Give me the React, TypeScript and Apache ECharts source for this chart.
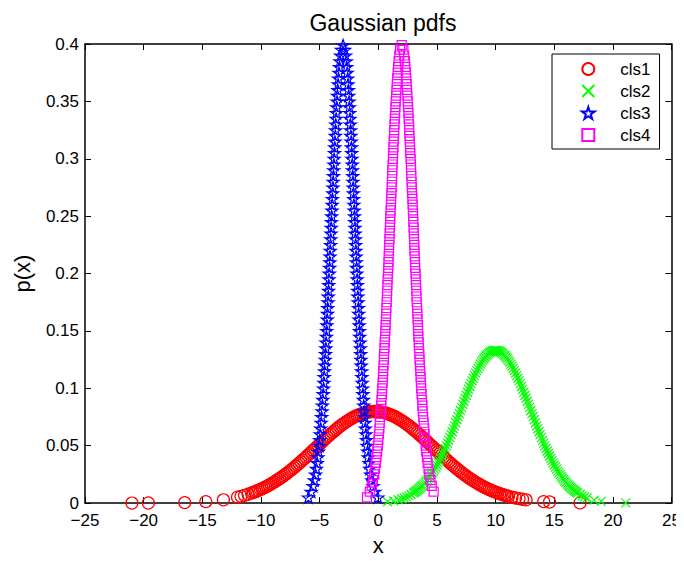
import React, { useEffect, useRef } from "react";
import * as echarts from "echarts";

const seriesNames = ["cls1", "cls2", "cls3", "cls4"];
const seriesColors = ["#ff0000", "#00ff00", "#0000ff", "#ff00ff"];

const xTicks = { min: -25, max: 25, interval: 5 };
const yTicks = { min: 0, max: 0.4, interval: 0.05 };

// cls1 (red circles)
const cls1X = [
  -21.0, -19.6, -16.5, -14.7, -13.2,
  -12.0, -11.7, -11.4, -11.1, -10.8,
  -10.65, -10.5, -10.35, -10.2, -10.05, -9.9, -9.75, -9.6, -9.45, -9.3,
  -9.15, -9.0, -8.85, -8.7, -8.55, -8.4, -8.25, -8.1, -7.95, -7.8,
  -7.65, -7.5, -7.35, -7.2, -7.05, -6.9, -6.75, -6.6, -6.45, -6.3,
  -6.15, -6.0, -5.85, -5.7, -5.55, -5.4, -5.25, -5.1, -4.95, -4.8,
  -4.65, -4.5, -4.35, -4.2, -4.05, -3.9, -3.75, -3.6, -3.45, -3.3,
  -3.15, -3.0, -2.85, -2.7, -2.55, -2.4, -2.25, -2.1, -1.95, -1.8,
  -1.65, -1.5, -1.35, -1.2, -1.05, -0.9, -0.75, -0.6, -0.45, -0.3,
  -0.15, 0.0, 0.15, 0.3, 0.45, 0.6, 0.75, 0.9, 1.05, 1.2,
  1.35, 1.5, 1.65, 1.8, 1.95, 2.1, 2.25, 2.4, 2.55, 2.7,
  2.85, 3.0, 3.15, 3.3, 3.45, 3.6, 3.75, 3.9, 4.05, 4.2,
  4.35, 4.5, 4.65, 4.8, 4.95, 5.1, 5.25, 5.4, 5.55, 5.7,
  5.85, 6.0, 6.15, 6.3, 6.45, 6.6, 6.75, 6.9, 7.05, 7.2,
  7.35, 7.5, 7.65, 7.8, 7.95, 8.1, 8.25, 8.4, 8.55, 8.7,
  8.85, 9.0, 9.15, 9.3, 9.45, 9.6, 9.75, 9.9, 10.05, 10.2,
  10.35, 10.5, 10.65, 10.8, 10.95,
  11.1, 11.4, 11.7, 12.0, 12.3, 12.6,
  14.1, 14.6, 17.2,
];
const cls1Y = [
  0.00002, 0.00005, 0.00042, 0.00126, 0.00286,
  0.00516, 0.00593, 0.00679, 0.00774, 0.0088,
  0.00936, 0.00996, 0.0106, 0.0112, 0.0119, 0.0126, 0.0134, 0.0141, 0.015, 0.0158,
  0.0167, 0.0176, 0.0185, 0.0195, 0.0205, 0.0215, 0.0225, 0.0236, 0.0248, 0.0259,
  0.0271, 0.0283, 0.0295, 0.0308, 0.0321, 0.0334, 0.0347, 0.0361, 0.0375, 0.0388,
  0.0402, 0.0417, 0.0431, 0.0445, 0.046, 0.0474, 0.0489, 0.0503, 0.0518, 0.0532,
  0.0547, 0.0561, 0.0575, 0.0589, 0.0602, 0.0616, 0.0629, 0.0642, 0.0654, 0.0667,
  0.0678, 0.069, 0.0701, 0.0711, 0.0721, 0.0731, 0.074, 0.0748, 0.0756, 0.0763,
  0.0769, 0.0775, 0.0781, 0.0785, 0.0789, 0.0792, 0.0795, 0.0797, 0.0798, 0.0798,
  0.0798, 0.0797, 0.0795, 0.0792, 0.0789, 0.0785, 0.0781, 0.0775, 0.0769, 0.0763,
  0.0756, 0.0748, 0.074, 0.0731, 0.0721, 0.0711, 0.0701, 0.069, 0.0678, 0.0667,
  0.0654, 0.0642, 0.0629, 0.0616, 0.0602, 0.0589, 0.0575, 0.0561, 0.0547, 0.0532,
  0.0518, 0.0503, 0.0489, 0.0474, 0.046, 0.0445, 0.0431, 0.0417, 0.0402, 0.0388,
  0.0375, 0.0361, 0.0347, 0.0334, 0.0321, 0.0308, 0.0295, 0.0283, 0.0271, 0.0259,
  0.0248, 0.0236, 0.0225, 0.0215, 0.0205, 0.0195, 0.0185, 0.0176, 0.0167, 0.0158,
  0.015, 0.0141, 0.0134, 0.0126, 0.0119, 0.0112, 0.0106, 0.00996, 0.00936, 0.0088,
  0.00826, 0.00774, 0.00725, 0.00679, 0.00635,
  0.00593, 0.00516, 0.00448, 0.00387, 0.00333, 0.00286,
  0.00126, 0.00094, 0.00018,
];

// cls2 (green crosses)
const cls2X = [
  0.8, 1.3, 1.7,
  2.0, 2.2, 2.4, 2.6, 2.8,
  3.0, 3.1, 3.2, 3.3, 3.4, 3.5, 3.6, 3.7, 3.8, 3.9,
  4.0, 4.1, 4.2, 4.3, 4.4, 4.5, 4.6, 4.7, 4.8, 4.9,
  5.0, 5.1, 5.2, 5.3, 5.4, 5.5, 5.6, 5.7, 5.8, 5.9,
  6.0, 6.1, 6.2, 6.3, 6.4, 6.5, 6.6, 6.7, 6.8, 6.9,
  7.0, 7.1, 7.2, 7.3, 7.4, 7.5, 7.6, 7.7, 7.8, 7.9,
  8.0, 8.1, 8.2, 8.3, 8.4, 8.5, 8.6, 8.7, 8.8, 8.9,
  9.0, 9.1, 9.2, 9.3, 9.4, 9.5, 9.6, 9.7, 9.8, 9.9,
  10.0, 10.1, 10.2, 10.3, 10.4, 10.5, 10.6, 10.7, 10.8, 10.9,
  11.0, 11.1, 11.2, 11.3, 11.4, 11.5, 11.6, 11.7, 11.8, 11.9,
  12.0, 12.1, 12.2, 12.3, 12.4, 12.5, 12.6, 12.7, 12.8, 12.9,
  13.0, 13.1, 13.2, 13.3, 13.4, 13.5, 13.6, 13.7, 13.8, 13.9,
  14.0, 14.1, 14.2, 14.3, 14.4, 14.5, 14.6, 14.7, 14.8, 14.9,
  15.0, 15.1, 15.2, 15.3, 15.4, 15.5, 15.6, 15.7, 15.8, 15.9,
  16.0, 16.1, 16.2, 16.3, 16.4, 16.5, 16.6, 16.7, 16.8, 16.9,
  17.0,
  17.2, 17.4, 17.6, 17.8,
  18.4, 19.0, 21.1,
];
const cls2Y = [
  0.00121, 0.00198, 0.0029,
  0.0038, 0.00452, 0.00537, 0.00634, 0.00746,
  0.00874, 0.00944, 0.0102, 0.011, 0.0118, 0.0127, 0.0137, 0.0147, 0.0157, 0.0168,
  0.018, 0.0192, 0.0205, 0.0219, 0.0233, 0.0248, 0.0263, 0.0279, 0.0296, 0.0314,
  0.0332, 0.035, 0.037, 0.039, 0.041, 0.0432, 0.0454, 0.0476, 0.0499, 0.0523,
  0.0547, 0.0571, 0.0596, 0.0622, 0.0647, 0.0673, 0.07, 0.0726, 0.0753, 0.078,
  0.0807, 0.0834, 0.086, 0.0887, 0.0914, 0.094, 0.0966, 0.0991, 0.1016, 0.1041,
  0.1065, 0.1088, 0.1111, 0.1133, 0.1154, 0.1174, 0.1193, 0.1211, 0.1228, 0.1244,
  0.1258, 0.1271, 0.1284, 0.1294, 0.1304, 0.1312, 0.1318, 0.1323, 0.1327, 0.1329,
  0.133, 0.1329, 0.1327, 0.1323, 0.1318, 0.1312, 0.1304, 0.1294, 0.1284, 0.1271,
  0.1258, 0.1244, 0.1228, 0.1211, 0.1193, 0.1174, 0.1154, 0.1133, 0.1111, 0.1088,
  0.1065, 0.1041, 0.1016, 0.0991, 0.0966, 0.094, 0.0914, 0.0887, 0.086, 0.0834,
  0.0807, 0.078, 0.0753, 0.0726, 0.07, 0.0673, 0.0647, 0.0622, 0.0596, 0.0571,
  0.0547, 0.0523, 0.0499, 0.0476, 0.0454, 0.0432, 0.041, 0.039, 0.037, 0.035,
  0.0332, 0.0314, 0.0296, 0.0279, 0.0263, 0.0248, 0.0233, 0.0219, 0.0205, 0.0192,
  0.018, 0.0168, 0.0157, 0.0147, 0.0137, 0.0127, 0.0118, 0.011, 0.0102, 0.00944,
  0.00874,
  0.00746, 0.00634, 0.00537, 0.00452,
  0.00264, 0.00148, 0.00014,
];

// cls3 (blue stars)
const cls3X = [
  -5.96, -5.72, -5.56, -5.45, -5.35, -5.28, -5.21, -5.15, -5.09, -5.04,
  -4.99, -4.95, -4.91, -4.87, -4.83, -4.79, -4.76, -4.73, -4.69, -4.66,
  -4.63, -4.61, -4.58, -4.55, -4.52, -4.5, -4.47, -4.45, -4.42, -4.4,
  -4.38, -4.35, -4.33, -4.31, -4.28, -4.26, -4.24, -4.22, -4.2, -4.18,
  -4.15, -4.13, -4.11, -4.09, -4.07, -4.05, -4.03, -4.01, -3.99, -3.97,
  -3.95, -3.93, -3.91, -3.88, -3.86, -3.84, -3.82, -3.8, -3.78, -3.76,
  -3.73, -3.71, -3.69, -3.66, -3.64, -3.62, -3.59, -3.57, -3.54, -3.51,
  -3.48, -3.45, -3.42, -3.39, -3.35, -3.31, -3.27, -3.21, -3.14,
  -3.0,
  -2.86, -2.79, -2.73, -2.69, -2.65, -2.61, -2.58, -2.55, -2.52, -2.49,
  -2.46, -2.44, -2.41, -2.38, -2.36, -2.34, -2.31, -2.29, -2.27, -2.25,
  -2.22, -2.2, -2.18, -2.16, -2.14, -2.12, -2.1, -2.08, -2.05, -2.03,
  -2.01, -1.99, -1.97, -1.95, -1.93, -1.91, -1.89, -1.87, -1.85, -1.83,
  -1.8, -1.78, -1.76, -1.74, -1.72, -1.69, -1.67, -1.65, -1.63, -1.6,
  -1.58, -1.55, -1.53, -1.5, -1.48, -1.45, -1.42, -1.4, -1.37, -1.34,
  -1.31, -1.27, -1.24, -1.21, -1.17, -1.13, -1.1, -1.05, -1.01, -0.96,
  -0.91, -0.86, -0.79, -0.73, -0.65, -0.55, -0.44, -0.29, -0.04,
];
const cls3Y = [
  0.005, 0.01, 0.015, 0.02, 0.025, 0.03, 0.035, 0.04, 0.045, 0.05,
  0.055, 0.06, 0.065, 0.07, 0.075, 0.08, 0.085, 0.09, 0.095, 0.1,
  0.105, 0.11, 0.115, 0.12, 0.125, 0.13, 0.135, 0.14, 0.145, 0.15,
  0.155, 0.16, 0.165, 0.17, 0.175, 0.18, 0.185, 0.19, 0.195, 0.2,
  0.205, 0.21, 0.215, 0.22, 0.225, 0.23, 0.235, 0.24, 0.245, 0.25,
  0.255, 0.26, 0.265, 0.27, 0.275, 0.28, 0.285, 0.29, 0.295, 0.3,
  0.305, 0.31, 0.315, 0.32, 0.325, 0.33, 0.335, 0.34, 0.345, 0.35,
  0.355, 0.36, 0.365, 0.37, 0.375, 0.38, 0.385, 0.39, 0.395,
  0.399,
  0.395, 0.39, 0.385, 0.38, 0.375, 0.37, 0.365, 0.36, 0.355, 0.35,
  0.345, 0.34, 0.335, 0.33, 0.325, 0.32, 0.315, 0.31, 0.305, 0.3,
  0.295, 0.29, 0.285, 0.28, 0.275, 0.27, 0.265, 0.26, 0.255, 0.25,
  0.245, 0.24, 0.235, 0.23, 0.225, 0.22, 0.215, 0.21, 0.205, 0.2,
  0.195, 0.19, 0.185, 0.18, 0.175, 0.17, 0.165, 0.16, 0.155, 0.15,
  0.145, 0.14, 0.135, 0.13, 0.125, 0.12, 0.115, 0.11, 0.105, 0.1,
  0.095, 0.09, 0.085, 0.08, 0.075, 0.07, 0.065, 0.06, 0.055, 0.05,
  0.045, 0.04, 0.035, 0.03, 0.025, 0.02, 0.015, 0.01, 0.005,
];

// cls4 (magenta squares)
const cls4X = [
  -0.96, -0.72, -0.56, -0.45, -0.35, -0.28, -0.21, -0.15, -0.09, -0.04,
  0.01, 0.05, 0.1, 0.13, 0.17, 0.21, 0.24, 0.27, 0.31, 0.34,
  0.37, 0.4, 0.42, 0.45, 0.48, 0.5, 0.53, 0.55, 0.58, 0.6,
  0.63, 0.65, 0.67, 0.69, 0.72, 0.74, 0.76, 0.78, 0.8, 0.83,
  0.85, 0.87, 0.89, 0.91, 0.93, 0.95, 0.97, 0.99, 1.01, 1.03,
  1.05, 1.08, 1.1, 1.12, 1.14, 1.16, 1.18, 1.2, 1.22, 1.25,
  1.27, 1.29, 1.31, 1.34, 1.36, 1.38, 1.41, 1.44, 1.46, 1.49,
  1.52, 1.55, 1.58, 1.61, 1.65, 1.69, 1.73, 1.79, 1.86,
  2.0,
  2.14, 2.21, 2.27, 2.31, 2.35, 2.39, 2.42, 2.45, 2.48, 2.51,
  2.54, 2.57, 2.59, 2.62, 2.64, 2.66, 2.69, 2.71, 2.73, 2.76,
  2.78, 2.8, 2.82, 2.84, 2.86, 2.88, 2.91, 2.93, 2.95, 2.97,
  2.99, 3.01, 3.03, 3.05, 3.07, 3.09, 3.11, 3.13, 3.15, 3.18,
  3.2, 3.22, 3.24, 3.26, 3.28, 3.31, 3.33, 3.35, 3.38, 3.4,
  3.42, 3.45, 3.47, 3.5, 3.52, 3.55, 3.58, 3.61, 3.63, 3.66,
  3.69, 3.73, 3.76, 3.79, 3.83, 3.87, 3.91, 3.95, 3.99, 4.04,
  4.09, 4.15, 4.21, 4.28, 4.35, 4.45, 4.56, 4.72,
];
const cls4Y = [
  0.005, 0.01, 0.015, 0.02, 0.025, 0.03, 0.035, 0.04, 0.045, 0.05,
  0.055, 0.06, 0.065, 0.07, 0.075, 0.08, 0.085, 0.09, 0.095, 0.1,
  0.105, 0.11, 0.115, 0.12, 0.125, 0.13, 0.135, 0.14, 0.145, 0.15,
  0.155, 0.16, 0.165, 0.17, 0.175, 0.18, 0.185, 0.19, 0.195, 0.2,
  0.205, 0.21, 0.215, 0.22, 0.225, 0.23, 0.235, 0.24, 0.245, 0.25,
  0.255, 0.26, 0.265, 0.27, 0.275, 0.28, 0.285, 0.29, 0.295, 0.3,
  0.305, 0.31, 0.315, 0.32, 0.325, 0.33, 0.335, 0.34, 0.345, 0.35,
  0.355, 0.36, 0.365, 0.37, 0.375, 0.38, 0.385, 0.39, 0.395,
  0.399,
  0.395, 0.39, 0.385, 0.38, 0.375, 0.37, 0.365, 0.36, 0.355, 0.35,
  0.345, 0.34, 0.335, 0.33, 0.325, 0.32, 0.315, 0.31, 0.305, 0.3,
  0.295, 0.29, 0.285, 0.28, 0.275, 0.27, 0.265, 0.26, 0.255, 0.25,
  0.245, 0.24, 0.235, 0.23, 0.225, 0.22, 0.215, 0.21, 0.205, 0.2,
  0.195, 0.19, 0.185, 0.18, 0.175, 0.17, 0.165, 0.16, 0.155, 0.15,
  0.145, 0.14, 0.135, 0.13, 0.125, 0.12, 0.115, 0.11, 0.105, 0.1,
  0.095, 0.09, 0.085, 0.08, 0.075, 0.07, 0.065, 0.06, 0.055, 0.05,
  0.045, 0.04, 0.035, 0.03, 0.025, 0.02, 0.015, 0.01,
];

const STAR =
  "path://M10,0L12.25,6.91L19.51,6.91L13.63,11.18L15.88,18.09L10,13.82L4.12,18.09L6.37,11.18L0.49,6.91L7.75,6.91Z";
const CROSS = "path://M0,0L10,10M10,0L0,10";
const SQUARE = "path://M0,0L10,0L10,10L0,10Z";

const symbols = ["circle", CROSS, STAR, SQUARE];
const symbolSizes = [12, 9, 12, 9];

const FONT = "'Liberation Sans', Arial, Helvetica, sans-serif";

function zip(xs: number[], ys: number[]) {
  const n = Math.min(xs.length, ys.length);
  const out: number[][] = [];
  for (let i = 0; i < n; i++) out.push([xs[i], ys[i]]);
  return out;
}

export default function App() {
  const ref = useRef<HTMLDivElement>(null);
  useEffect(() => {
    if (!ref.current) return;
    const chart = echarts.init(ref.current, null, { renderer: "svg" });
    const allX = [cls1X, cls2X, cls3X, cls4X];
    const allY = [cls1Y, cls2Y, cls3Y, cls4Y];
    const axisLine = { show: true, onZero: false, lineStyle: { color: "#000", width: 1.5 } };
    const tick = { show: true, inside: true, length: 6, lineStyle: { color: "#000", width: 1 } };
    const minus = (v: number) => String(v).replace("-", "\u2212");
    chart.setOption({
      animation: false,
      backgroundColor: "#fff",
      title: {
        text: "Gaussian pdfs",
        left: 378,
        top: 6,
        textAlign: "center",
        textStyle: { fontFamily: FONT, fontSize: 23, fontWeight: "normal", color: "#000" },
      },
      legend: {
        data: seriesNames,
        orient: "vertical",
        left: 552,
        top: 54,
        padding: [5, 9, 4, 29],
        itemWidth: 54,
        itemHeight: 12,
        itemGap: 2,
        borderColor: "#000",
        borderWidth: 1,
        backgroundColor: "#fff",
        textStyle: {
          fontFamily: FONT,
          fontSize: 17,
          color: "#000",
          lineHeight: 20,
          width: 30,
        },
      },
      grid: { left: 85, right: 12, top: 44, bottom: 54, containLabel: false },
      xAxis: [
        {
          type: "value",
          ...xTicks,
          name: "x",
          nameLocation: "middle",
          nameGap: 26,
          nameTextStyle: { fontFamily: FONT, fontSize: 22, color: "#000" },
          axisLine,
          axisTick: tick,
          splitLine: { show: false },
          axisLabel: { fontFamily: FONT, fontSize: 17, color: "#000", margin: 9, formatter: minus },
        },
        {
          type: "value",
          position: "top",
          ...xTicks,
          axisLine,
          axisTick: tick,
          splitLine: { show: false },
          axisLabel: { show: false },
        },
      ],
      yAxis: [
        {
          type: "value",
          ...yTicks,
          name: "p(x)",
          nameLocation: "middle",
          nameGap: 52,
          nameTextStyle: { fontFamily: FONT, fontSize: 22, color: "#000" },
          axisLine,
          axisTick: tick,
          splitLine: { show: false },
          axisLabel: { fontFamily: FONT, fontSize: 17, color: "#000", margin: 6 },
        },
        {
          type: "value",
          position: "right",
          ...yTicks,
          axisLine,
          axisTick: tick,
          splitLine: { show: false },
          axisLabel: { show: false },
        },
      ],
      series: seriesNames.map((name, i) => ({
        name,
        type: "scatter",
        xAxisIndex: 0,
        yAxisIndex: 0,
        symbol: symbols[i],
        symbolSize: symbolSizes[i],
        symbolKeepAspect: true,
        large: false,
        data: zip(allX[i], allY[i]),
        itemStyle: { color: "transparent", borderColor: seriesColors[i], borderWidth: 1.2, opacity: 1 },
        emphasis: { disabled: true },
      })),
    });
    return () => chart.dispose();
  }, []);
  return <div ref={ref} style={{ width: 684, height: 561, marginLeft: -8, marginTop: -8 }} />;
}
